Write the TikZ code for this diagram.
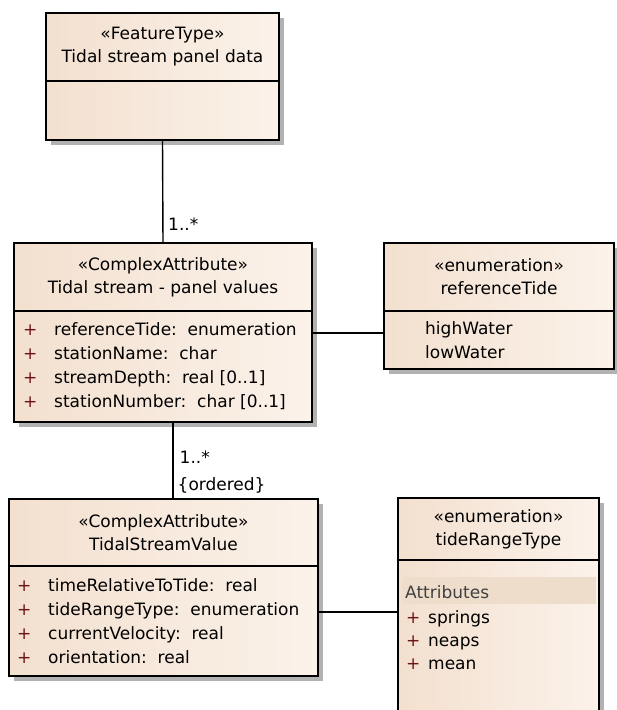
\documentclass[tikz,border=0pt]{standalone}
\usepackage{fontspec}
\setmainfont{DejaVu Sans}
\usetikzlibrary{positioning, shadows}
\definecolor{peachL}{RGB}{243,224,207}
\definecolor{peachR}{RGB}{251,242,234}
\definecolor{bandpeach}{RGB}{239,221,204}
\definecolor{plusred}{RGB}{110,20,20}
\newcommand{\plus}[1][31pt]{\makebox[#1][l]{\textcolor{plusred}{+}}}

\begin{document}
\begin{tikzpicture}[x=1pt, y=-1pt,
  cls/.style={draw, line width=1.4pt, left color=peachL, right color=peachR,
              inner sep=0pt, outer sep=0pt,
              drop shadow={shadow xshift=5pt, shadow yshift=-5pt, fill=gray!60, opacity=1}},
  hdr/.style={cls, align=center, font=\fontsize{17}{23}\selectfont},
  bdy/.style={cls},
  rows/.style={align=left, inner sep=0pt, anchor=west, font=\fontsize{17}{24}\selectfont},
  mult/.style={font=\fontsize{17}{20}\selectfont, anchor=west, inner sep=0pt},
  lnk/.style={line width=1.4pt},
]

\clip (0,0) rectangle (617,710);

%% FeatureType
\node[hdr, minimum width=233pt, minimum height=68pt, anchor=north west] (ft) at (46,13)
  {«FeatureType»\\Tidal stream panel data};
\node[bdy, minimum width=233pt, minimum height=59pt, below=0pt of ft] (ftb) {};

%% Tidal stream - panel values
\node[hdr, minimum width=298pt, minimum height=68pt, anchor=north west] (cav) at (14,243)
  {«ComplexAttribute»\\Tidal stream - panel values};
\node[bdy, minimum width=298pt, minimum height=111pt, below=0pt of cav] (cavb) {};
\node[rows] (cavr) at ([xshift=9pt]cavb.west)
  {\plus referenceTide:\ \ enumeration\\
   \plus stationName:\ \ char\\
   \plus streamDepth:\ \ real [0..1]\\
   \plus stationNumber:\ \ char [0..1]};

%% referenceTide
\node[hdr, minimum width=230pt, minimum height=68pt, anchor=north west] (rt) at (384,243)
  {«enumeration»\\referenceTide};
\node[bdy, minimum width=230pt, minimum height=58pt, below=0pt of rt] (rtb) {};
\node[rows] (rtr) at ([xshift=41pt]rtb.west) {highWater\\lowWater};

%% TidalStreamValue
\node[hdr, minimum width=309pt, minimum height=67pt, anchor=north west] (tsv) at (9,499)
  {«ComplexAttribute»\\TidalStreamValue};
\node[bdy, minimum width=309pt, minimum height=110pt, below=0pt of tsv] (tsvb) {};
\node[rows] (tsvr) at ([xshift=8pt]tsvb.west)
  {\plus timeRelativeToTide:\ \ real\\
   \plus tideRangeType:\ \ enumeration\\
   \plus currentVelocity:\ \ real\\
   \plus orientation:\ \ real};

%% tideRangeType
\node[hdr, minimum width=201pt, minimum height=62pt, anchor=north west] (trt) at (398,498)
  {«enumeration»\\tideRangeType};
\node[bdy, minimum width=201pt, minimum height=170pt, below=0pt of trt] (trtb) {};
\fill[bandpeach] ([xshift=4pt, yshift=-17pt]trtb.north west)
  rectangle ([xshift=-3pt, yshift=-44pt]trtb.north east);
\node[rows, text=black!75] (trta) at ([xshift=7pt, yshift=-32pt]trtb.north west) {Attributes};
\node[rows, font=\fontsize{17}{23}\selectfont] (trtr) at ([xshift=8pt, yshift=-80pt]trtb.north west)
  {\plus[22pt]springs\\
   \plus[22pt]neaps\\
   \plus[22pt]mean};

%% connectors
\draw[lnk] (ftb.south) -- (cav.north);
\node[mult] (m1) at ([xshift=5pt, yshift=19pt]cav.north) {1..*};

\draw[lnk] ([xshift=10pt]cavb.south) -- ([xshift=10pt]cavb.south |- tsv.north);
\node[mult] (m2) at ([xshift=16pt, yshift=42pt]tsv.north) {1..*};
\node[mult] (m3) at ([xshift=14pt, yshift=14pt]tsv.north) {\{ordered\}};

\draw[lnk] ([yshift=7pt]rtb.west) -- ([yshift=7pt]rtb.west -| cavb.east);
\draw[lnk] ([yshift=9pt]tsvb.east) -- ([yshift=9pt]tsvb.east -| trtb.west);

\end{tikzpicture}
\end{document}
